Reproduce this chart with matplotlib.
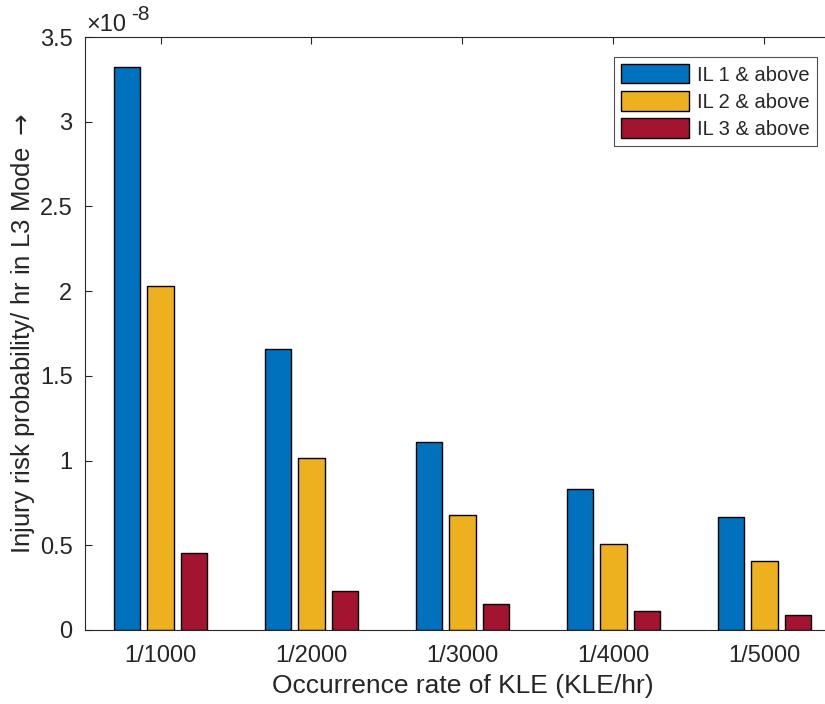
import numpy as np
import matplotlib
matplotlib.use('Agg')
import matplotlib.pyplot as plt
from matplotlib.transforms import offset_copy

plt.rcParams['font.family'] = ['Liberation Sans', 'DejaVu Sans']

# values in units of 1e-8
categories = ['1/1000', '1/2000', '1/3000', '1/4000', '1/5000']
il1 = [3.32, 1.66, 1.107, 0.83, 0.664]
il2 = [2.03, 1.015, 0.677, 0.508, 0.406]
il3 = [0.455, 0.228, 0.152, 0.114, 0.091]
series_names = ['IL 1 & above', 'IL 2 & above', 'IL 3 & above']
colors = ['#0072BD', '#EDB120', '#A2142F']

dark = '#262626'

fig = plt.figure(figsize=(8.25, 7.04), dpi=100)
ax = fig.add_axes([85 / 825, 74 / 704, 755 / 825, 593 / 704])

x = np.arange(1, len(categories) + 1)
offset = 0.2222
width = offset * 0.8
for i, (vals, name, c) in enumerate(zip([il1, il2, il3], series_names, colors)):
    ax.bar(x + (i - 1) * offset, vals, width, color=c, edgecolor='black',
           linewidth=1.0, label=name, zorder=2)

ax.set_xlim(0.5, 5.5)
ax.set_ylim(0, 3.5)
ax.set_xticks(x)
ax.set_xticklabels(categories)
ax.set_yticks(np.arange(0, 3.51, 0.5))
ax.set_yticklabels(['0', '0.5', '1', '1.5', '2', '2.5', '3', '3.5'])
ax.tick_params(direction='in', length=5, width=0.8, colors=dark,
               labelsize=17, top=True)
ax.tick_params(axis='y', pad=9)
ax.tick_params(axis='x', pad=11)
for s in ax.spines.values():
    s.set_color(dark)
    s.set_linewidth(0.8)

ax.set_xlabel('Occurrence rate of KLE (KLE/hr)', fontsize=19, color=dark, labelpad=5)
ax.set_ylabel(r'Injury risk probability/ hr in L3 Mode $\rightarrow$', fontsize=18.5,
              color=dark, labelpad=2)

# MATLAB style exponent
ax.text(0, 1, '\u00d710', transform=offset_copy(ax.transAxes, fig, x=1, y=4, units='points'),
        fontsize=17, color=dark, ha='left', va='baseline')
ax.text(0, 1, '-8', transform=offset_copy(ax.transAxes, fig, x=33, y=12, units='points'),
        fontsize=15, color=dark, ha='left', va='baseline')

leg = ax.legend(loc='upper right', bbox_to_anchor=(817 / 825, 647 / 704),
                bbox_transform=fig.transFigure, fontsize=14.5, frameon=True,
                fancybox=False, edgecolor=dark, handlelength=3.4,
                handleheight=1.1, handletextpad=0.4, labelspacing=0.33,
                borderpad=0.35, borderaxespad=0)
leg.get_frame().set_linewidth(0.8)
for t in leg.get_texts():
    t.set_color(dark)

fig.savefig('out.png', dpi=100)
